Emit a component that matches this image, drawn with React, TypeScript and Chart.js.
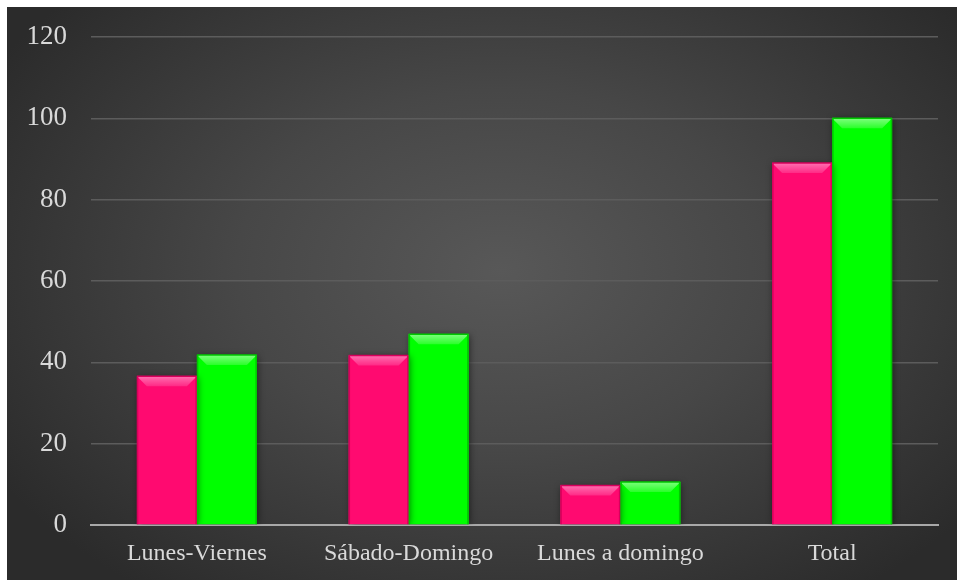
import React, { useEffect, useRef } from "react";
import { Chart, registerables } from "chart.js";

Chart.register(...registerables);

const categories = ["Lunes-Viernes", "Sábado-Domingo", "Lunes a domingo", "Total"];
const seriesPink = [36.6, 41.7, 9.7, 89];
const seriesGreen = [41.8, 46.9, 10.6, 100];
const yTicks = [0, 20, 40, 60, 80, 100, 120];

const PINK = "#ff0a70";
const GREEN = "#00ff00";
const SERIF = "'Liberation Serif', 'Times New Roman', serif";

// light top bevel and darker side edges drawn over each bar
const bevelPlugin = {
  id: "bevel",
  beforeDatasetsDraw(chart: any) {
    const ctx = chart.ctx;
    ctx.save();
    ctx.shadowColor = "rgba(0,0,0,0.55)";
    ctx.shadowBlur = 7;
    ctx.shadowOffsetX = 1;
    ctx.shadowOffsetY = 1;
  },
  afterDatasetsDraw(chart: any) {
    const ctx = chart.ctx;
    ctx.restore();
    const tones = [
      { hi: "#ff6fb0", mid: "#ff2a86", edge: "#d8005c" },
      { hi: "#7dff7d", mid: "#2aff2a", edge: "#00c800" },
    ];
    chart.data.datasets.forEach((_: any, di: number) => {
      const meta = chart.getDatasetMeta(di);
      const t = tones[di];
      meta.data.forEach((bar: any) => {
        const { x, y, base, width } = bar.getProps(["x", "y", "base", "width"], true);
        const x0 = x - width / 2;
        const x1 = x + width / 2;
        const h = base - y;
        const b = Math.min(10, h / 2);
        ctx.save();
        const g = ctx.createLinearGradient(0, y, 0, y + b);
        g.addColorStop(0, t.hi);
        g.addColorStop(1, t.mid);
        ctx.fillStyle = g;
        ctx.beginPath();
        ctx.moveTo(x0, y);
        ctx.lineTo(x1, y);
        ctx.lineTo(x1 - b, y + b);
        ctx.lineTo(x0 + b, y + b);
        ctx.closePath();
        ctx.fill();
        ctx.strokeStyle = t.edge;
        ctx.lineWidth = 1.5;
        ctx.beginPath();
        ctx.moveTo(x0 + 0.75, base);
        ctx.lineTo(x0 + 0.75, y);
        ctx.lineTo(x1 - 0.75, y);
        ctx.lineTo(x1 - 0.75, base);
        ctx.stroke();
        ctx.restore();
      });
    });
  },
};

export default function App() {
  const ref = useRef<HTMLCanvasElement | null>(null);

  useEffect(() => {
    if (!ref.current) return;
    const chart = new Chart(ref.current, {
      type: "bar",
      data: {
        labels: categories,
        datasets: [
          { data: seriesPink, backgroundColor: PINK, borderWidth: 0 },
          { data: seriesGreen, backgroundColor: GREEN, borderWidth: 0 },
        ],
      },
      options: {
        animation: false,
        responsive: false,
        maintainAspectRatio: false,
        layout: { padding: { left: 0, right: 19, top: 30, bottom: 0 } },
        datasets: { bar: { barPercentage: 1, categoryPercentage: 0.567 } },
        plugins: { legend: { display: false }, tooltip: { enabled: false } },
        scales: {
          x: {
            grid: { display: false, drawTicks: false },
            border: { display: true, color: "#a9a9a9", width: 2 },
            ticks: {
              color: "#d9d9d9",
              padding: 14,
              font: { family: SERIF, size: 24 },
            },
            afterFit: (s: any) => {
              s.height = 55;
            },
          },
          y: {
            min: 0,
            max: 120,
            afterBuildTicks: (s: any) => {
              s.ticks = yTicks.map((v) => ({ value: v }));
            },
            grid: {
              color: "#5c5c5c",
              lineWidth: 1.5,
              drawTicks: true,
              tickLength: 24,
              tickColor: "rgba(0,0,0,0)",
            },
            border: { display: false },
            ticks: {
              color: "#d9d9d9",
              padding: 0,
              font: { family: SERIF, size: 27 },
            },
            afterFit: (s: any) => {
              s.width = 84;
            },
          },
        },
      },
      plugins: [bevelPlugin],
    });
    return () => chart.destroy();
  }, []);

  return (
    <div
      style={{
        position: "absolute",
        left: 7,
        top: 7,
        width: 950,
        height: 573,
        overflow: "hidden",
        background:
          "radial-gradient(ellipse 62% 70% at 52% 46%, #585858 0%, #474747 45%, #2b2b2b 100%)",
      }}
    >
      <canvas ref={ref} width={950} height={573} style={{ display: "block" }} />
    </div>
  );
}
